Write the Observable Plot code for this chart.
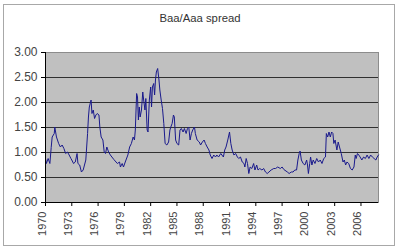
<!DOCTYPE html>
<html>
<head>
<meta charset="utf-8">
<script src="https://cdn.jsdelivr.net/npm/d3@7"></script>
<script src="https://cdn.jsdelivr.net/npm/@observablehq/plot@0.6"></script>
<style>
  html, body { margin: 0; padding: 0; background: #fff; }
  #wrap { position: relative; width: 400px; height: 250px; font-family: "Liberation Sans", Arial, sans-serif; }
  #border { position: absolute; left: 3px; top: 4px; width: 390px; height: 240px; border: 1px solid #a8a8a8; box-sizing: content-box; }
  #title { position: absolute; left: 0; width: 400px; top: 12px; text-align: center; font-size: 11.3px; color: #333; }
  #chart { position: absolute; left: 0; top: 0; }
  g[aria-label="y-axis tick label"] text { font-size: 12px; fill: #444; }
</style>
</head>
<body>
<div id="wrap">
  <div id="border"></div>
  <div id="chart"></div>
  <div id="title">Baa/Aaa spread</div>
</div>
<script>
const titleText = "Baa/Aaa spread";
const years = [
  1970.0,1970.1,1970.3,1970.5,1970.65,1970.76,1971.0,1971.06,1971.25,1971.5,1971.7,1971.9,1972.1,
  1972.3,1972.5,1972.7,1972.9,1973.0,1973.2,1973.4,1973.6,1973.7,1973.9,1974.1,1974.3,1974.45,1974.6,
  1974.8,1974.9,1975.0,1975.2,1975.3,1975.45,1975.6,1975.75,1975.9,1976.1,1976.2,1976.35,1976.55,1976.7,
  1976.85,1977.0,1977.2,1977.4,1977.8,1978.2,1978.45,1978.55,1978.75,1978.9,1979.1,1979.4,1979.6,1979.8,
  1980.0,1980.15,1980.25,1980.4,1980.5,1980.6,1980.7,1980.8,1980.95,1981.1,1981.2,1981.35,1981.45,1981.6,
  1981.7,1981.85,1982.0,1982.1,1982.2,1982.35,1982.45,1982.55,1982.65,1982.8,1982.95,1983.05,1983.2,1983.35,
  1983.5,1983.65,1983.85,1984.05,1984.2,1984.3,1984.45,1984.6,1984.7,1984.85,1985.0,1985.2,1985.35,1985.5,
  1985.7,1985.85,1986.05,1986.2,1986.35,1986.5,1986.65,1986.8,1987.0,1987.1,1987.3,1987.55,1987.7,1987.9,
  1988.1,1988.25,1988.45,1988.65,1988.8,1989.0,1989.2,1989.4,1989.55,1989.75,1990.0,1990.3,1990.45,1990.6,
  1990.8,1991.0,1991.15,1991.3,1991.5,1991.7,1991.9,1992.05,1992.25,1992.45,1992.65,1992.75,1992.9,1993.05,
  1993.2,1993.35,1993.55,1993.75,1993.9,1994.1,1994.25,1994.45,1994.7,1994.9,1995.1,1995.3,1995.5,1995.75,
  1996.05,1996.25,1996.5,1996.8,1997.0,1997.2,1997.6,1997.8,1998.05,1998.25,1998.45,1998.65,1998.8,1998.95,
  1999.05,1999.2,1999.4,1999.6,1999.8,1999.9,2000.0,2000.15,2000.25,2000.4,2000.55,2000.75,2000.95,2001.15,
  2001.35,2001.55,2001.75,2001.95,2002.05,2002.2,2002.35,2002.5,2002.65,2002.8,2002.9,2003.05,2003.25,2003.4,
  2003.55,2003.75,2003.95,2004.1,2004.25,2004.4,2004.6,2004.8,2005.0,2005.2,2005.35,2005.45,2005.6,2005.75,
  2005.9,2006.1,2006.3,2006.5,2006.7,2006.9,2007.1,2007.3,2007.5,2007.7,2007.85,2008.0
];
const spread = [
  0.88,0.78,0.88,0.78,1.10,1.31,1.38,1.51,1.31,1.18,1.11,1.15,1.08,
  0.98,1.01,0.95,0.88,0.85,0.78,0.81,0.98,0.78,0.75,0.61,0.65,0.75,0.85,
  1.38,1.71,1.91,2.05,1.78,1.85,1.68,1.75,1.78,1.75,1.51,1.31,1.25,1.01,
  0.98,1.11,1.01,0.95,0.86,0.78,0.81,0.71,0.78,0.71,0.81,0.95,1.11,1.18,
  1.31,1.25,1.45,2.18,2.11,1.65,1.91,1.71,1.85,2.21,2.05,1.85,2.08,1.45,
  1.41,2.05,2.31,1.91,2.31,2.38,2.15,2.45,2.61,2.68,2.45,2.25,2.05,1.88,
  1.58,1.18,1.15,1.21,1.45,1.51,1.58,1.75,1.71,1.25,1.18,1.15,1.45,1.48,
  1.41,1.48,1.38,1.48,1.51,1.25,1.38,1.45,1.51,1.38,1.25,1.21,1.15,1.21,
  1.25,1.18,1.11,1.05,0.95,0.88,0.95,0.91,0.95,0.91,0.98,0.91,1.05,1.11,
  1.25,1.41,1.18,1.05,0.95,0.98,0.91,0.88,0.91,0.81,0.78,0.71,0.88,0.78,
  0.58,0.71,0.68,0.78,0.65,0.75,0.65,0.68,0.65,0.68,0.61,0.58,0.61,0.65,
  0.68,0.68,0.71,0.68,0.71,0.66,0.61,0.58,0.61,0.61,0.65,0.65,0.85,0.98,
  1.03,0.85,0.78,0.75,0.85,0.75,0.58,0.78,0.91,0.75,0.85,0.78,0.88,0.81,
  0.85,0.78,0.88,0.91,1.38,1.31,1.41,1.31,1.41,1.38,1.18,1.25,1.05,1.21,
  1.11,0.98,0.81,0.85,0.75,0.81,0.78,0.68,0.65,0.71,0.95,0.88,0.98,0.95,
  0.91,0.85,0.91,0.88,0.95,0.88,0.95,0.91,0.88,0.85,0.91,0.95
];
const xTicks = [1970,1973,1976,1979,1982,1985,1988,1991,1994,1997,2000,2003,2006];
const yTicks = [0,0.5,1,1.5,2,2.5,3];

const data = years.map((t, i) => ({t, v: spread[i]}));
const fontFam = '"Liberation Sans", Arial, sans-serif';

const chart = Plot.plot({
  width: 400,
  height: 250,
  marginLeft: 45,
  marginRight: 22,
  marginTop: 52,
  marginBottom: 48,
  style: {fontFamily: fontFam, background: "transparent", overflow: "visible", color: "#000"},
  x: {domain: [1970, 2008], label: null, ticks: xTicks, tickFormat: () => "", tickSize: 4},
  y: {domain: [0, 3], label: null, ticks: yTicks, tickFormat: d3.format(".2f"), tickSize: 4, tickPadding: 4},
  marks: [
    Plot.frame({fill: "#c0c0c0", stroke: "#8c8c8c"}),
    Plot.gridY(yTicks.filter(d => d > 0 && d < 3), {stroke: "#303030", strokeOpacity: 1, strokeWidth: 1}),
    Plot.line(data, {x: "t", y: "v", stroke: "#1a1a8c", strokeWidth: 1}),
    Plot.ruleY([0], {stroke: "#000"}),
    Plot.ruleX([1970], {stroke: "#000"}),
    Plot.text(xTicks, {x: d => d, frameAnchor: "bottom", text: d => String(d), rotate: -90, textAnchor: "end", dy: 9, fontSize: 11, fill: "#444"})
  ]
});
document.getElementById("chart").appendChild(chart);
</script>
</body>
</html>
